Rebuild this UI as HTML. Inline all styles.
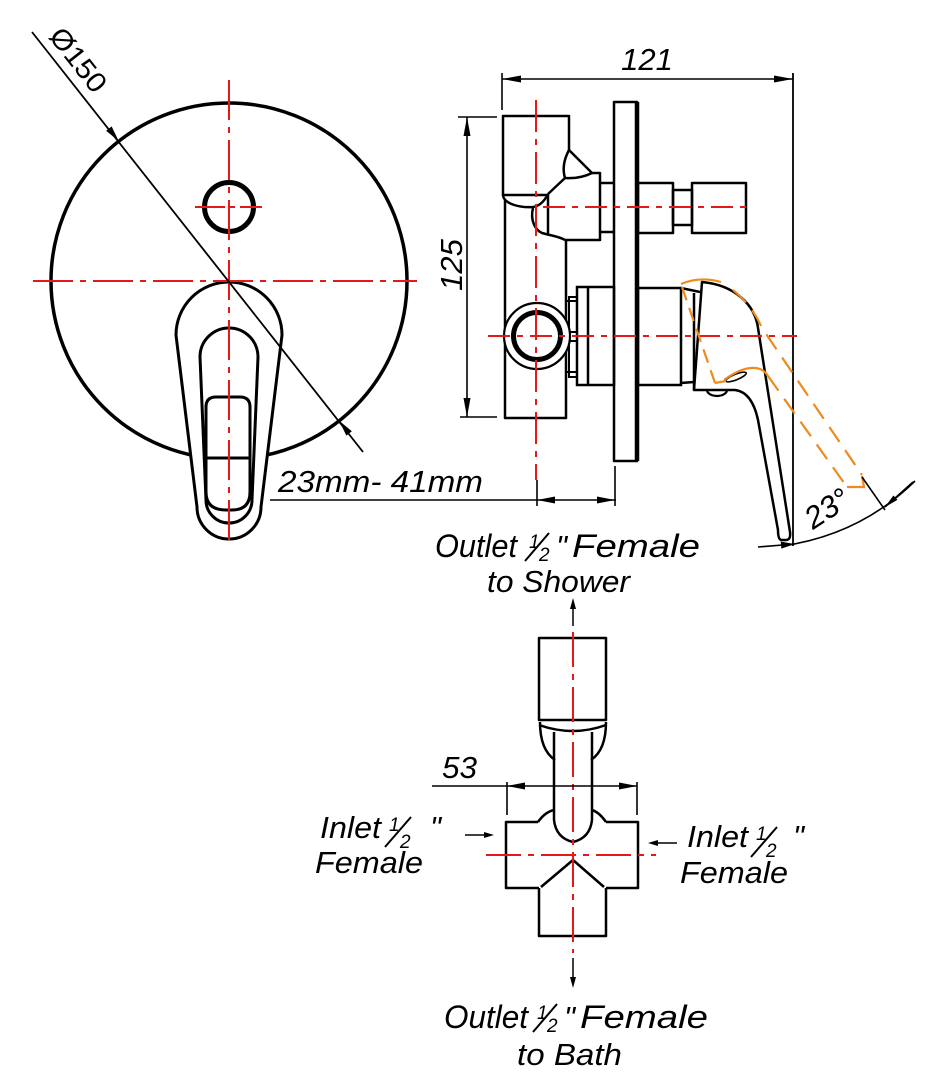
<!DOCTYPE html>
<html>
<head>
<meta charset="utf-8">
<style>
  html,body{margin:0;padding:0;background:#fff;}
  svg{display:block;}
  text{font-family:"Liberation Sans",Arial,sans-serif;font-style:italic;fill:#000;}
</style>
</head>
<body>
<svg width="927" height="1080" viewBox="0 0 927 1080" xmlns="http://www.w3.org/2000/svg">
<rect x="0" y="0" width="927" height="1080" fill="#fff"/>

<!-- ================= FRONT VIEW ================= -->
<circle cx="229" cy="281" r="178" fill="none" stroke="#000" stroke-width="3.5"/>
<circle cx="229" cy="207" r="24.5" fill="none" stroke="#000" stroke-width="5"/>

<!-- handle -->
<path d="M176 335 A53 53 0 0 1 282 335 L261 507 A32 32 0 0 1 197 507 Z" fill="#fff" stroke="#000" stroke-width="3"/>
<path d="M200 357 A29 29 0 0 1 258 357 L252 500 A23 23 0 0 1 206 500 Z" fill="none" stroke="#000" stroke-width="3"/>
<path d="M216 397 L240 397 Q250 397 250 407 L250 492 Q250 510 232 510 L226 510 Q206 510 206 492 L206 407 Q206 397 216 397 Z" fill="none" stroke="#000" stroke-width="3"/>
<line x1="206" y1="458" x2="250" y2="458" stroke="#000" stroke-width="3"/>

<!-- red centerlines front -->
<g stroke="#e31a1a" stroke-width="2" fill="none">
  <line x1="229" y1="80" x2="229" y2="547" stroke-dasharray="40 7 6 7"/>
  <line x1="33" y1="281" x2="417" y2="281" stroke-dasharray="40 7 6 7"/>
  <line x1="195" y1="207" x2="262" y2="207" stroke-dasharray="30 5 5 5"/>
</g>

<!-- diameter line -->
<line x1="32" y1="32" x2="363" y2="452" stroke="#000" stroke-width="1.8"/>
<polygon points="118.8,141.2 106.15,130.77 111.65,126.43" fill="#000"/>
<polygon points="339.2,420.8 346.35,435.57 351.85,431.23" fill="#000"/>
<text transform="translate(70.8,65.8) rotate(51.8)" text-anchor="middle" font-size="28" style="font-style:normal" textLength="74" lengthAdjust="spacingAndGlyphs">Ø150</text>

<!-- 23mm-41mm -->
<text x="278" y="492" font-size="31" textLength="205" lengthAdjust="spacingAndGlyphs">23mm- 41mm</text>
<line x1="270" y1="500" x2="616" y2="500" stroke="#000" stroke-width="1.6"/>
<line x1="537" y1="480" x2="537" y2="506" stroke="#000" stroke-width="1.6"/>
<line x1="615" y1="466" x2="615" y2="506" stroke="#000" stroke-width="1.6"/>
<polygon points="537,500 555,496.5 555,503.5" fill="#000"/>
<polygon points="615,500 597,496.5 597,503.5" fill="#000"/>

<!-- ================= SIDE VIEW ================= -->
<!-- dimension 121 -->
<line x1="502" y1="73" x2="502" y2="110" stroke="#000" stroke-width="1.6"/>
<line x1="793" y1="73" x2="793" y2="546" stroke="#000" stroke-width="1.8"/>
<line x1="502" y1="79" x2="793" y2="79" stroke="#000" stroke-width="1.6"/>
<polygon points="502,79 521,75.5 521,82.5" fill="#000"/>
<polygon points="793,79 774,75.5 774,82.5" fill="#000"/>
<text x="647" y="70" font-size="31" text-anchor="middle">121</text>

<!-- dimension 125 -->
<line x1="458" y1="117" x2="497" y2="117" stroke="#000" stroke-width="1.6"/>
<line x1="460" y1="417" x2="497" y2="417" stroke="#000" stroke-width="1.6"/>
<line x1="467" y1="117" x2="467" y2="417" stroke="#000" stroke-width="1.6"/>
<polygon points="467,117 463.5,136 470.5,136" fill="#000"/>
<polygon points="467,417 463.5,398 470.5,398" fill="#000"/>
<text transform="translate(462,265) rotate(-90)" font-size="31" text-anchor="middle">125</text>

<g stroke="#000" stroke-width="2.5" fill="none" stroke-linejoin="round">
  <!-- body upper -->
  <path d="M503 196 L503 116 L569 116 L569 150"/>
  <line x1="503" y1="195" x2="548" y2="195"/>
  <path d="M503 196 C505 204 520 208 533 207 C540 206 545 200 548 194"/>
  <line x1="548" y1="194" x2="565" y2="178"/>
  <path d="M569 150 Q561 165 565 178"/>
  <line x1="569" y1="150" x2="592" y2="173"/>
  <path d="M565 178 Q580 179 592 173"/>
  <!-- stem block -->
  <path d="M592 173 L600 173 L600 240 L565 240"/>
  <line x1="548" y1="194" x2="548" y2="235"/>
  <path d="M533 208 C530 220 535 230 542 233 C552 236 558 236 565 240"/>
  <!-- body lower -->
  <path d="M505 200 L505 418 L566 418 L566 240"/>
  <!-- neck -->
  <line x1="600" y1="183" x2="614" y2="183"/>
  <line x1="600" y1="232" x2="614" y2="232"/>
  <!-- plate -->
  <rect x="614" y="102" width="23" height="359"/>
  <!-- right stem -->
  <rect x="638" y="183" width="35" height="50"/>
  <rect x="673" y="190" width="19" height="35"/>
  <rect x="692" y="183" width="54" height="50"/>
</g>
<line x1="637" y1="102" x2="637" y2="461" stroke="#000" stroke-width="4.5"/>

<!-- lower part -->
<g stroke="#000" stroke-width="2.5" fill="none">
  <rect x="577" y="287" width="37" height="98"/>
  <line x1="588" y1="287" x2="588" y2="385"/>
  <rect x="638" y="288" width="43" height="97"/>
  <rect x="569" y="297" width="8" height="80" stroke-width="2"/>
  <line x1="566" y1="301" x2="577" y2="301" stroke-width="2"/>
  <line x1="566" y1="332" x2="577" y2="332" stroke-width="2"/>
  <line x1="566" y1="341" x2="577" y2="341" stroke-width="2"/>
  <line x1="566" y1="372" x2="577" y2="372" stroke-width="2"/>
  <line x1="681" y1="288" x2="700" y2="292"/>
  <line x1="681" y1="383" x2="694" y2="382"/>
  <line x1="694" y1="293" x2="694" y2="390"/>
</g>
<circle cx="537" cy="336" r="33" fill="#fff" stroke="#000" stroke-width="2.2"/>
<circle cx="537" cy="336" r="23.5" fill="none" stroke="#000" stroke-width="5"/>

<!-- handle side -->
<path d="M702 282 C735 285 755 305 758 328 L790 532 Q791 540 786 540 L781 540 Q778 539 778 530 L758 420 Q752 392 735 390 L694 390 L702 282 Z" fill="none" stroke="#000" stroke-width="2.5" stroke-linejoin="round"/>
<path d="M707 390 A10 6 0 0 0 727 390" fill="none" stroke="#000" stroke-width="2.2"/>
<ellipse cx="736" cy="377" rx="11" ry="2.8" transform="rotate(-22 736 377)" fill="none" stroke="#000" stroke-width="1.6"/>

<!-- red lines side -->
<g stroke="#e31a1a" stroke-width="2" fill="none">
  <line x1="536" y1="100" x2="536" y2="480" stroke-dasharray="32 7 6 7"/>
  <line x1="543" y1="207" x2="752" y2="207" stroke-dasharray="22 7 6 7"/>
  <line x1="488" y1="336" x2="797" y2="336" stroke-dasharray="22 7 6 7"/>
</g>

<!-- orange rotated handle -->
<g stroke="#ef8a1d" stroke-width="2.2" fill="none">
  <path d="M681 284 Q700 276 721 282"/>
  <path d="M682 287 L715 383" stroke-dasharray="14 8"/>
  <path d="M715 383 L726 381"/>
  <path d="M724 380 C735 372 748 365 760 369 Q765 371 768 376"/>
  <path d="M768 376 L847 487" stroke-dasharray="18 10"/>
  <path d="M847 487 L864 487 L862 476"/>
  <path d="M733 290 Q752 305 762 328 L862 475" stroke-dasharray="18 10"/>
</g>

<!-- angle 23 -->
<path d="M782 546 Q860 535 915 481" fill="none" stroke="#000" stroke-width="1.6"/>
<line x1="862" y1="477" x2="885" y2="510" stroke="#000" stroke-width="1.6"/>
<line x1="913" y1="482" x2="885" y2="507" stroke="#000" stroke-width="1.6"/>
<polygon points="885,507 893.4,495.5 897.4,499.9" fill="#000"/>
<line x1="758" y1="547" x2="795" y2="544" stroke="#000" stroke-width="1.6"/>
<polygon points="795,544 781.3,548.6 780.7,541.6" fill="#000"/>
<text transform="translate(813,530) rotate(-33)" font-size="31">23°</text>

<!-- ================= LABELS TOP ================= -->
<text x="435" y="557" font-size="32" textLength="82" lengthAdjust="spacingAndGlyphs">Outlet</text>
<text x="529" y="548" font-size="19">1</text>
<line x1="525" y1="561" x2="549" y2="533" stroke="#000" stroke-width="2"/>
<text x="539" y="561" font-size="19">2</text>
<text x="556" y="557" font-size="31">"</text>
<text x="572" y="557" font-size="32" textLength="128" lengthAdjust="spacingAndGlyphs">Female</text>
<text x="487" y="592" font-size="31" textLength="143" lengthAdjust="spacingAndGlyphs">to Shower</text>

<!-- ================= BOTTOM VIEW ================= -->
<g stroke="#000" stroke-width="2.5" fill="none" stroke-linejoin="round">
  <rect x="539" y="638" width="67" height="82"/>
  <path d="M539 725 Q573 737 606 725"/>
  <path d="M540 722 Q540 750 555 760"/>
  <path d="M606 722 Q606 750 591 760"/>
  <line x1="554" y1="732" x2="554" y2="820"/>
  <line x1="592" y1="732" x2="592" y2="820"/>
  <path d="M554 820 Q556 838 573 842 Q590 838 592 820"/>
  <path d="M538 822 Q545 812 554 810"/>
  <path d="M606 822 Q599 812 592 810"/>
  <path d="M538 822 L506 822 L506 888 L539 888"/>
  <path d="M606 822 L638 822 L638 888 L606 888"/>
  <path d="M541 887 L573 860 L604 887"/>
  <path d="M539 888 L539 936 L606 936 L606 888"/>
</g>
<g stroke="#e31a1a" stroke-width="2" fill="none">
  <line x1="573" y1="632" x2="573" y2="953" stroke-dasharray="35 7 6 7"/>
  <line x1="486" y1="855" x2="656" y2="855" stroke-dasharray="35 7 6 7"/>
</g>
<!-- flow arrows -->
<line x1="573" y1="604" x2="573" y2="626" stroke="#000" stroke-width="1.5"/>
<polygon points="573,598 570,609 576,609" fill="#000"/>
<line x1="573" y1="958" x2="573" y2="982" stroke="#000" stroke-width="1.5"/>
<polygon points="573,988 570,977 576,977" fill="#000"/>

<!-- dim 53 -->
<line x1="432" y1="786" x2="637" y2="786" stroke="#000" stroke-width="1.6"/>
<line x1="507" y1="782" x2="507" y2="815" stroke="#000" stroke-width="1.6"/>
<line x1="637" y1="782" x2="637" y2="815" stroke="#000" stroke-width="1.6"/>
<polygon points="507,786 525,782.5 525,789.5" fill="#000"/>
<polygon points="637,786 619,782.5 619,789.5" fill="#000"/>
<text x="442" y="778" font-size="31" textLength="35" lengthAdjust="spacingAndGlyphs">53</text>

<!-- inlet arrows -->
<line x1="465" y1="835" x2="488" y2="835" stroke="#000" stroke-width="1.4"/>
<polygon points="494,835 484,832 484,838" fill="#000"/>
<line x1="677" y1="843" x2="654" y2="843" stroke="#000" stroke-width="1.4"/>
<polygon points="648,843 658,840 658,846" fill="#000"/>

<!-- inlet left label -->
<text x="320" y="838" font-size="31" textLength="61" lengthAdjust="spacingAndGlyphs">Inlet</text>
<text x="389" y="831" font-size="19">1</text>
<line x1="385" y1="847" x2="411" y2="817" stroke="#000" stroke-width="2"/>
<text x="400" y="848" font-size="19">2</text>
<text x="430" y="838" font-size="31">"</text>
<text x="315" y="873" font-size="31" textLength="108" lengthAdjust="spacingAndGlyphs">Female</text>

<!-- inlet right label -->
<text x="756" y="840" font-size="19">1</text>
<text x="687" y="847" font-size="31" textLength="61" lengthAdjust="spacingAndGlyphs">Inlet</text>
<line x1="751" y1="857" x2="777" y2="827" stroke="#000" stroke-width="2"/>
<text x="766" y="857" font-size="19">2</text>
<text x="793" y="847" font-size="31">"</text>
<text x="680" y="883" font-size="31" textLength="108" lengthAdjust="spacingAndGlyphs">Female</text>

<!-- bottom label -->
<text x="444" y="1028" font-size="32" textLength="84" lengthAdjust="spacingAndGlyphs">Outlet</text>
<text x="537" y="1019" font-size="19">1</text>
<line x1="533" y1="1032" x2="557" y2="1004" stroke="#000" stroke-width="2"/>
<text x="547" y="1032" font-size="19">2</text>
<text x="564" y="1028" font-size="31">"</text>
<text x="580" y="1028" font-size="32" textLength="128" lengthAdjust="spacingAndGlyphs">Female</text>
<text x="517" y="1065" font-size="31" textLength="105" lengthAdjust="spacingAndGlyphs">to Bath</text>

</svg>
</body>
</html>
